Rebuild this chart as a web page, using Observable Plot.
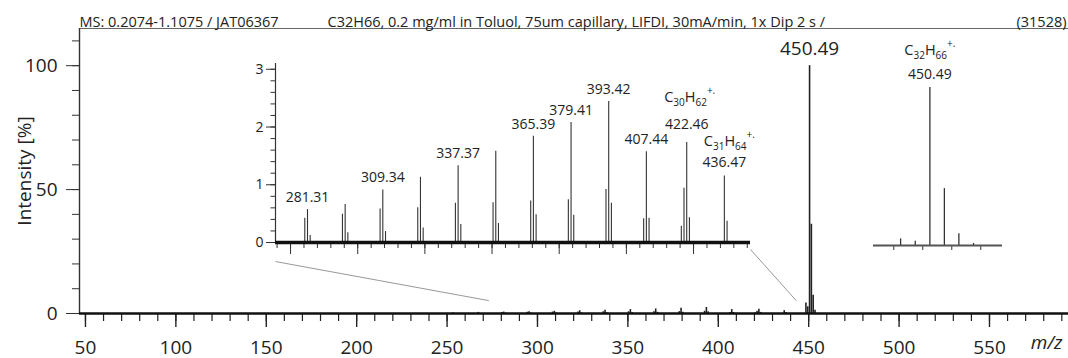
<!DOCTYPE html>
<html><head><meta charset="utf-8">
<script src="https://cdn.jsdelivr.net/npm/d3@7"></script>
<script src="https://cdn.jsdelivr.net/npm/@observablehq/plot@0.6"></script>
<style>
body{margin:0;background:#fff;}
#wrap{position:relative;width:1068px;height:358px;font-family:"Open Sans",sans-serif;color:#222;}
#wrap svg{position:absolute;left:0;top:0;overflow:visible;}
</style></head><body><div id="wrap"></div>
<script>
// ---------- data ----------
const headerLeft = "MS: 0.2074-1.1075 / JAT06367";
const headerMid = "C32H66, 0.2 mg/ml in Toluol, 75um capillary, LIFDI, 30mA/min, 1x Dip 2 s /";
const headerRight = "(31528)";
const yLabel = "Intensity [%]";
const xLabel = "m/z";

// fragment peaks (relative intensity, %)
const fragMz  = [253.28, 267.29,
  280.30, 281.31, 282.31, 294.32, 295.33, 296.33, 308.33, 309.34, 310.35,
  322.35, 323.36, 324.36, 336.36, 337.37, 338.38, 350.38, 351.39, 352.39,
  364.39, 365.39, 366.40, 378.40, 379.41, 380.41, 392.41, 393.42, 394.43,
  406.43, 407.44, 408.44, 420.45, 421.45, 422.46, 423.46, 436.47, 437.48];
const fragInt = [0.30, 0.45,
  0.42, 0.57, 0.12, 0.49, 0.66, 0.17, 0.58, 0.91, 0.19,
  0.60, 1.13, 0.25, 0.68, 1.33, 0.31, 0.69, 1.58, 0.33,
  0.72, 1.84, 0.48, 0.74, 2.08, 0.47, 0.92, 2.44, 0.68,
  0.41, 1.57, 0.42, 0.28, 0.94, 1.73, 0.43, 1.15, 0.37];
// molecular ion cluster
const molMz  = [448.47, 449.48, 450.49, 451.49, 452.49, 453.50];
const molInt = [4.2, 2.7, 100, 36, 7.4, 1.3];

const insetLabels = [281.31, 309.34, 337.37, 365.39, 379.41, 393.42, 407.44, 422.46, 436.47];
const ionMz = [422.46, 436.47, 450.49];
const ionFormula = ["C30H62", "C31H64", "C32H66"];

const mainXTicks = d3.range(50, 551, 50);
const mainXMinor = d3.range(50, 591, 10);
const mainYTicks = [0, 50, 100];
const mainYMinor = d3.range(0, 111, 10);
const insetYTicks = [0, 1, 2, 3];
const insetYMinor = d3.range(0, 3.01, 0.2);
const insetXTicks = d3.range(275, 426, 25);
const insetXMinor = d3.range(270, 446, 5);
const molXTicks = [448, 450, 452, 454];

// zoom anchors on the main spectrum (m/z, %)
const zoomAnchorMz = [273.1, 443.1];
const zoomAnchorY = 5.2;
const zoomInsetY = [-0.33, -0.12];

// ---------- layout ----------
const W = 1068, H = 358;
const FONT = '"Open Sans", sans-serif';
const mainDom = {x: [46.7, 593.7], y: [0, 115]};
const mainM = {left: 79, right: 0, top: 28, bottom: 45};
const insDom = {x: [269.4, 446.2], y: [0, 3.1]};
const insM = {left: 275, right: 318, top: 63, bottom: 116};
const molDom = {x: [446.6, 455.5], y: [0, 100]};
const molM = {left: 873, right: 66, top: 87, bottom: 113};
// label offsets (px) for the ion labels: [mass dy, formula dy, formula dx]
const ionDy = {"422.46": [-18, -45, 3], "436.47": [-14, -35, 5], "450.49": [-13, -37, 0]};

const frag = fragMz.map((mz, i) => ({mz, i: fragInt[i]}));
const mol = molMz.map((mz, i) => ({mz, i: molInt[i]}));
const allPeaks = frag.concat(mol);
const intOf = mz => allPeaks.find(d => d.mz === mz).i;
const insFrag = frag.filter(d => d.mz >= insDom.x[0] && d.mz <= insDom.x[1]);
const insLab = insetLabels.filter(mz => !ionMz.includes(mz)).map(mz => ({mz, i: intOf(mz)}));
const ions = ionMz.map((mz, k) => ({mz, i: intOf(mz), f: ionFormula[k]}));

const noText = () => "";
const base = (m) => ({width: W, height: H, marginLeft: m.left, marginRight: m.right, marginTop: m.top, marginBottom: m.bottom,
  style: {fontFamily: FONT, background: "none", color: "#222", overflow: "visible"}});

function ionMarks(list) {
  return list.flatMap(d => {
    const o = ionDy[d.mz.toFixed(2)];
    return [
      Plot.text([d], {x: "mz", y: "i", text: e => e.mz.toFixed(2), fontSize: 14, fill: "#222", dy: o[0]}),
      Plot.text([d], {x: "mz", y: "i", text: "f", fontSize: 14.5, fill: "#222", dy: o[1], dx: o[2]})
    ];
  });
}

function rich(svg) {
  d3.select(svg).selectAll("text").each(function() {
    const m = /^C(\d+)H(\d+)$/.exec(this.textContent);
    if (!m) return;
    const s = d3.select(this);
    s.text(null);
    s.append("tspan").text("C");
    s.append("tspan").attr("font-size", 10).attr("dy", 4).text(m[1]);
    s.append("tspan").attr("dy", -4).text("H");
    s.append("tspan").attr("font-size", 10).attr("dy", 4).text(m[2]);
    s.append("tspan").attr("font-size", 10).attr("dy", -12).text("+.");
  });
}

// ---------- inset (fragments) ----------
const inset = Plot.plot({
  ...base(insM),
  x: {domain: insDom.x}, y: {domain: insDom.y},
  marks: [
    Plot.ruleX([insDom.x[0]], {stroke: "#333", strokeWidth: 1.2}),
    Plot.axisY(insetYTicks, {tickSize: 9, tickPadding: 3, fontSize: 14, label: null, stroke: "#333", tickFormat: d3.format("d")}),
    Plot.axisY(insetYMinor, {tickSize: 4.5, tickFormat: noText, label: null, stroke: "#333"}),
    Plot.axisX(insetXTicks, {tickSize: 12, tickFormat: noText, label: null, stroke: "#333"}),
    Plot.axisX(insetXMinor, {tickSize: 6, tickFormat: noText, label: null, stroke: "#333"}),
    Plot.ruleX(insFrag, {x: "mz", y1: 0, y2: "i", stroke: "#333", strokeWidth: 1.1}),
    Plot.ruleY([0], {stroke: "#111", strokeWidth: 3.5}),
    Plot.text(insLab, {x: "mz", y: "i", text: d => d.mz.toFixed(2), fontSize: 14, fill: "#222", dy: -12}),
    ...ionMarks(ions.filter(d => d.mz <= insDom.x[1]))
  ]
});
rich(inset);

// ---------- inset (molecular ion) ----------
const molPlot = Plot.plot({
  ...base(molM),
  x: {domain: molDom.x}, y: {domain: molDom.y, axis: null},
  marks: [
    Plot.axisX(molXTicks, {tickSize: 5, tickFormat: noText, label: null, stroke: "#333"}),
    Plot.ruleX(mol, {x: "mz", y1: 0, y2: "i", stroke: "#333", strokeWidth: 1.3}),
    Plot.ruleY([0], {stroke: "#555", strokeWidth: 2}),
    ...ionMarks(ions.filter(d => d.mz > insDom.x[1]))
  ]
});
rich(molPlot);

// ---------- connectors ----------
const sInsX = Plot.scale({x: {domain: insDom.x, range: [insM.left, W - insM.right]}});
const sInsY = Plot.scale({y: {domain: insDom.y, range: [H - insM.bottom, insM.top]}});
const sMainX = Plot.scale({x: {domain: mainDom.x, range: [mainM.left, W - mainM.right]}});
const sMainY = Plot.scale({y: {domain: mainDom.y, range: [H - mainM.bottom, mainM.top]}});
const connectors = [0, 1].map(k => ({
  x1: sMainX.invert(sInsX.apply(insDom.x[k])),
  y1: sMainY.invert(sInsY.apply(zoomInsetY[k])),
  x2: zoomAnchorMz[k], y2: zoomAnchorY
}));

// ---------- main ----------
const main = Plot.plot({
  ...base(mainM),
  style: {fontFamily: FONT, background: "#fff", color: "#222", overflow: "visible"},
  x: {domain: mainDom.x}, y: {domain: mainDom.y},
  marks: [
    Plot.ruleY([mainDom.y[1]], {stroke: "#666", strokeWidth: 1.2}),
    Plot.ruleX([mainDom.x[0]], {stroke: "#333", strokeWidth: 1.4}),
    Plot.axisY(mainYTicks, {tickSize: 13, tickPadding: 9, fontSize: 19, label: null, stroke: "#333"}),
    Plot.axisY(mainYMinor, {tickSize: 7, tickFormat: noText, label: null, stroke: "#333"}),
    Plot.axisX(mainXTicks, {tickSize: 14, tickPadding: 13, fontSize: 19, label: null, stroke: "#222", strokeWidth: 1.4}),
    Plot.axisX(mainXMinor, {tickSize: 8, tickFormat: noText, label: null, stroke: "#222", strokeWidth: 1.2}),
    Plot.link(connectors, {x1: "x1", y1: "y1", x2: "x2", y2: "y2", stroke: "#999", strokeWidth: 1}),
    Plot.ruleX(allPeaks, {x: "mz", y1: 0, y2: "i", stroke: "#222", strokeWidth: 1.6}),
    Plot.ruleY([0], {stroke: "#111", strokeWidth: 2.5}),
    Plot.text(mol.filter(d => d.i === d3.max(molInt)), {x: "mz", y: "i", text: d => d.mz.toFixed(2), fontSize: 19, fill: "#222", dy: -17}),
    Plot.text([headerLeft], {text: d => d, frameAnchor: "top-left", textAnchor: "start", lineAnchor: "bottom", dy: -2, fontSize: 14.5, fill: "#222"}),
    Plot.text([headerMid], {text: d => d, frameAnchor: "top-left", textAnchor: "start", lineAnchor: "bottom", dx: 248, dy: -2, fontSize: 14.5, fill: "#222"}),
    Plot.text([headerRight], {text: d => d, frameAnchor: "top-right", textAnchor: "end", lineAnchor: "bottom", dx: -2, dy: -2, fontSize: 14.5, fill: "#222"}),
    Plot.text([yLabel], {text: d => d, frameAnchor: "left", textAnchor: "middle", rotate: -90, dx: -55, fontSize: 19, fill: "#222"}),
    Plot.text([xLabel], {text: d => d, frameAnchor: "bottom-right", textAnchor: "end", dx: -6, dy: 35, fontSize: 19, fontStyle: "italic", fill: "#222"})
  ]
});

const wrap = document.getElementById("wrap");
wrap.appendChild(main);
wrap.appendChild(inset);
wrap.appendChild(molPlot);
</script></body></html>
